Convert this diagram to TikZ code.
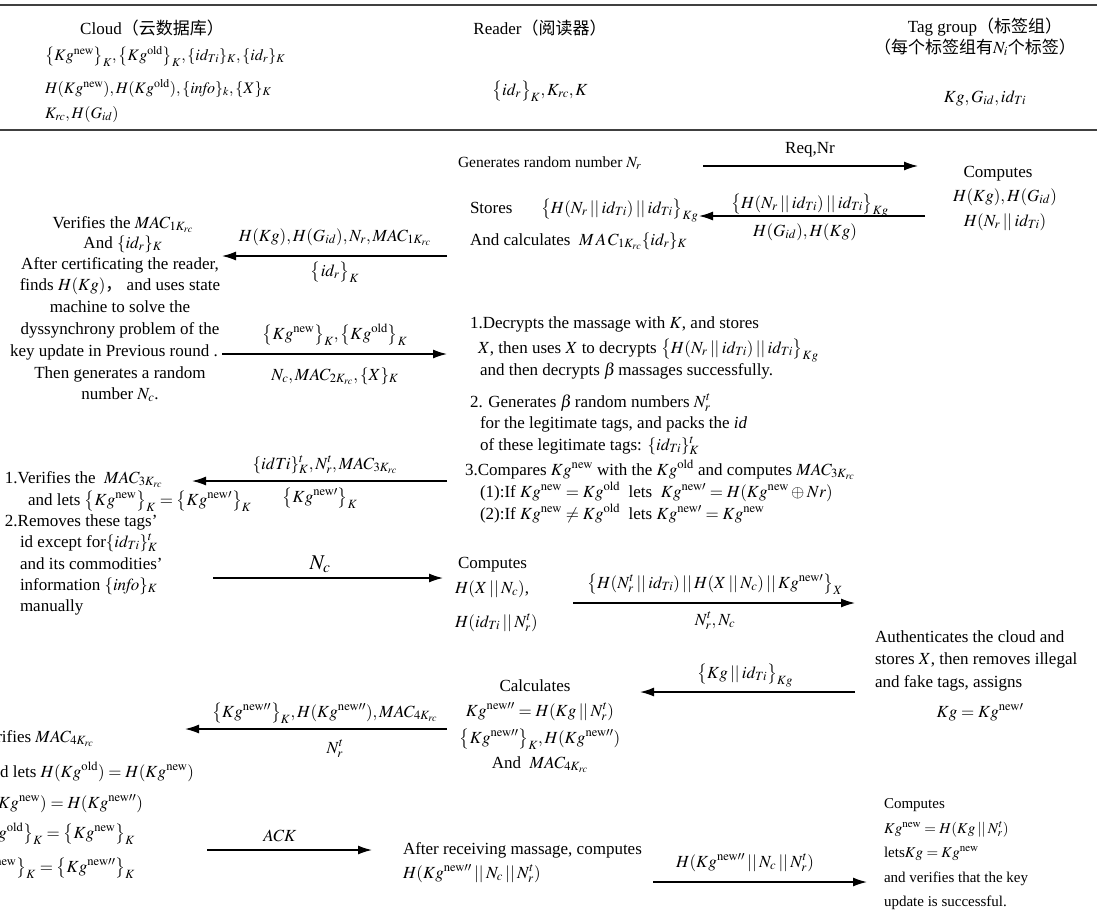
\documentclass[tikz,border=0pt]{standalone}
\usepackage{mathptmx}
\usepackage{fontspec}
\setmainfont{Liberation Serif}
\newfontfamily\cjk{Noto Sans CJK SC}
\usetikzlibrary{arrows.meta}
\newcommand{\mainfs}{\fontsize{17}{20}\selectfont}
\newcommand{\midfs}{\fontsize{16}{19}\selectfont}
\newcommand{\lowfs}{\fontsize{15.5}{18}\selectfont}
\newcommand{\smallfs}{\fontsize{15}{17}\selectfont}
\newcommand{\KN}{Kg^{\mathrm{new}}}
\newcommand{\KO}{Kg^{\mathrm{old}}}
\newcommand{\KNp}{Kg^{\mathrm{new}\prime}}
\newcommand{\KNpp}{Kg^{\mathrm{new}\prime\prime}}
\newcommand{\idT}{id_{Ti}}
\newcommand{\MAC}[1]{MAC_{#1K_{rc}}}
\newcommand{\mybr}[1]{\bigl\{#1\bigr\}}
\newcommand{\concat}{\mathbin{||}}
\tikzset{
 txt/.style={inner sep=0pt, outer sep=0pt, font=\mainfs},
 lw/.style={txt, anchor=base west},
 le/.style={txt, anchor=base east},
 lc/.style={txt, anchor=base},
 sm/.style={txt, anchor=base west, font=\smallfs},
 arr/.style={-{Latex[length=14pt,width=9pt]}, line width=1.4pt},
 rule/.style={line width=1.2pt, black!75}
}
\begin{document}
\begin{tikzpicture}[x=1pt,y=-1pt]
\useasboundingbox (0,0) rectangle (1115,910);
\clip (0,0) rectangle (1115,910);
% header rules
\coordinate (h1a) at (0,5); \coordinate (h1b) at (1097,5);
\coordinate (h2a) at (0,130); \coordinate (h2b) at (1097,130);
\draw[rule] (h1a) -- (h1b);
\draw[rule] (h2a) -- (h2b);
% header
\node[lc] (cloudT) at (152,34) {Cloud{\cjk （云数据库）}};
\node[lw,font=\midfs] (c1) at (45,60) {$\mybr{\KN}_K,\mybr{\KO}_K,\{\idT\}_K,\{id_r\}_K$};
\node[lw,font=\midfs] (c2) at (45,93) {$H(Kg^{\mathrm{new}}),H(Kg^{\mathrm{old}}),\{\mathit{info}\}_k,\{X\}_K$};
\node[lw,font=\midfs] (c3) at (45,118) {$K_{rc},H(G_{id})$};
\node[lc] (readerT) at (540,34) {Reader{\cjk （阅读器）}};
\node[lc] (r1) at (540,95) {$\mybr{id_r}_K,K_{rc},K$};
\node[lc] (tagT) at (985,32) {Tag group{\cjk （标签组）}};
\node[lc] (tagT2) at (975,53) {{\cjk （每个标签组有}$N_i${\cjk 个标签）}};
\node[lc] (t1) at (985,102) {$Kg,G_{id},\idT$};
% row 1
\node[lw,font=\lowfs] (gen) at (458,167) {Generates random number $N_r$};
\coordinate (a1s) at (703,166); \coordinate (a1e) at (918,166);
\draw[arr] (a1s) -- (a1e);
\node[lc] (a1l) at (810,153) {Req,Nr};
\node[lc] (tc1) at (998,177) {Computes};
\node[lc] (tc2) at (1005,201) {$H(Kg),H(G_{id})$};
\node[lc] (tc3) at (1005,226) {$H(N_r\concat\idT)$};
% row 2
\node[lw] (st) at (470,213) {Stores};
\node[lw] (st2) at (541,213) {$\mybr{H(N_r\concat\idT)\concat\idT}_{Kg}$};
\node[lw] (calc1) at (470,245) {And calculates \ $M\,A\,C_{1K_{rc}}\{id_r\}_K$};
\coordinate (a2s) at (925,216); \coordinate (a2e) at (699,216);
\draw[arr] (a2s) -- (a2e);
\node[lc] (a2l) at (810,208) {$\mybr{H(N_r\concat\idT)\concat\idT}_{Kg}$};
\node[lc] (a2b) at (805,236) {$H(G_{id}),H(Kg)$};
% row 3
\coordinate (a3s) at (447,256); \coordinate (a3e) at (222,256);
\draw[arr] (a3s) -- (a3e);
\node[lc] (a3l) at (335,241) {$H(Kg),H(G_{id}),N_r,\MAC{1}$};
\node[lc] (a3b) at (335,276) {$\mybr{id_r}_K$};
\node[lc] (v1) at (123,228) {Verifies the $\MAC{1}$};
\node[lc] (v2) at (123,248) {And $\{id_r\}_K$};
\node[lc] (v3) at (120,269) {After certificating the reader,};
\node[lc] (v4) at (120,290) {finds $H(Kg)${\cjk ，} and uses state};
\node[lc] (v5) at (120,312) {machine to solve the};
\node[lc] (v6) at (120,334) {dyssynchrony problem of the};
\node[lc] (v7) at (114,356) {key update in Previous round .};
\node[lc] (v8) at (120,378) {Then generates a random};
\node[lc] (v9) at (120,399) {number $N_c$.};
% row 4
\coordinate (a4s) at (222,354); \coordinate (a4e) at (447,354);
\draw[arr] (a4s) -- (a4e);
\node[lc] (a4l) at (335,339) {$\mybr{\KN}_K,\mybr{\KO}_K$};
\node[lc] (a4b) at (335,380) {$N_c,\MAC{2},\{X\}_K$};
\node[lw] (d1) at (470,328) {1.Decrypts the massage with $K$, and stores};
\node[lw] (d2) at (478,353) {$X$, then uses $X$ to decrypts $\mybr{H(N_r\concat\idT)\concat\idT}_{Kg}$};
\node[lw] (d3) at (480,375) {and then decrypts $\beta$\,massages successfully.};
\node[lw] (d4) at (470,407) {2. Generates $\beta$\,random numbers $N_r^t$};
\node[lw] (d5) at (480,428) {for the legitimate tags, and packs the \textit{id}};
\node[lw] (d6) at (480,450) {of these legitimate tags: $\{\idT\}_K^t$};
\node[lw] (d7) at (465,475) {3.Compares $\KN$ with the $\KO$ and computes $\MAC{3}$};
\node[lw] (d8) at (480,497) {(1):If $\KN=\KO$ \ lets \ $\KNp=H(\KN\oplus Nr)$};
\node[lw] (d9) at (480,519) {(2):If $\KN\neq\KO$ \ lets $\KNp=\KN$};
% row 5
\coordinate (a5s) at (447,481); \coordinate (a5e) at (192,481);
\draw[arr] (a5s) -- (a5e);
\node[lc] (a5l) at (325,469) {$\{idTi\}_K^t,N_r^t,\MAC{3}$};
\node[lc] (a5b) at (320,502) {$\mybr{\KNp}_K$};
\node[lw] (e1) at (5,483) {1.Verifies the \ $\MAC{3}$};
\node[lw] (e2) at (28,505) {and lets $\mybr{\KN}_K=\mybr{\KNp}_K$};
\node[lw] (e3) at (5,526) {2.Removes these tags’};
\node[lw] (e4) at (20,547) {id except for$\{\idT\}_K^t$};
\node[lw] (e5) at (20,569) {and its commodities’};
\node[lw] (e6) at (20,590) {information $\{\mathit{info}\}_K$};
\node[lw] (e7) at (20,611) {manually};
% row 6
\coordinate (a6s) at (213,578); \coordinate (a6e) at (443,578);
\draw[arr] (a6s) -- (a6e);
\node[lc,font=\fontsize{21}{24}\selectfont] (a6l) at (320,569) {$N_c$};
\node[lw] (f1) at (458,568) {Computes};
\node[lw] (f2) at (455,593) {$H(X\concat N_c)$,};
\node[lw] (f3) at (455,627) {$H(\idT\concat N_r^t)$};
\coordinate (a7s) at (573,603); \coordinate (a7e) at (855,603);
\draw[arr] (a7s) -- (a7e);
\node[lc] (a7l) at (715,588) {$\mybr{H(N_r^t\concat\idT)\concat H(X\concat N_c)\concat\KNp}_X$};
\node[lc] (a7b) at (715,625) {$N_r^t,N_c$};
\node[lw] (g1) at (875,642) {Authenticates the cloud and};
\node[lw] (g2) at (875,664) {stores $X$, then removes illegal};
\node[lw] (g3) at (875,687) {and fake tags, assigns};
\node[lc] (g4) at (980,717) {$Kg=\KNp$};
% row 7
\coordinate (a8s) at (855,692); \coordinate (a8e) at (640,692);
\draw[arr] (a8s) -- (a8e);
\node[lc] (a8l) at (745,678) {$\mybr{Kg\concat\idT}_{Kg}$};
\node[lc] (k1) at (535,691) {Calculates};
\node[lc] (k2) at (540,716) {$\KNpp=H(Kg\concat N_r^t)$};
\node[lc] (k3) at (540,743) {$\mybr{\KNpp}_K,H(\KNpp)$};
\node[lc] (k4) at (540,768) {And \ $\MAC{4}$};
% row 8
\coordinate (a9s) at (447,729); \coordinate (a9e) at (185,729);
\draw[arr] (a9s) -- (a9e);
\node[lc] (a9l) at (325,717) {$\mybr{\KNpp}_K,H(\KNpp),\MAC{4}$};
\node[lc] (a9b) at (335,753) {$N_r^t$};
\node[le] (m1) at (94,742) {Verifies $\MAC{4}$};
\node[le] (m2) at (194,777) {and lets $H(\KO)=H(\KN)$};
\node[le] (m3) at (143,808) {$H(\KN)=H(\KNpp)$};
\node[le] (m4) at (135,838) {$\mybr{\KO}_K=\mybr{\KN}_K$};
\node[le] (m5) at (135,872) {$\mybr{\KN}_K=\mybr{\KNpp}_K$};
% row 9
\coordinate (b1s) at (207,850); \coordinate (b1e) at (372,850);
\draw[arr] (b1s) -- (b1e);
\node[lc] (b1l) at (280,841) {$ACK$};
\node[lw] (n1) at (403,854) {After receiving massage, computes};
\node[lw] (n2) at (403,878) {$H(\KNpp\concat N_c\concat N_r^t)$};
\coordinate (b2s) at (653,882); \coordinate (b2e) at (867,882);
\draw[arr] (b2s) -- (b2e);
\node[lc] (b2l) at (745,867) {$H(\KNpp\concat N_c\concat N_r^t)$};
\node[sm] (s1) at (884,808) {Computes};
\node[sm] (s2) at (884,833) {$\KN=H(Kg\concat N_r^t)$};
\node[sm] (s3) at (884,857) {lets$Kg=\KN$};
\node[sm] (s4) at (884,882) {and verifies that the key};
\node[sm] (s5) at (884,906) {update is successful.};
\end{tikzpicture}
\end{document}
